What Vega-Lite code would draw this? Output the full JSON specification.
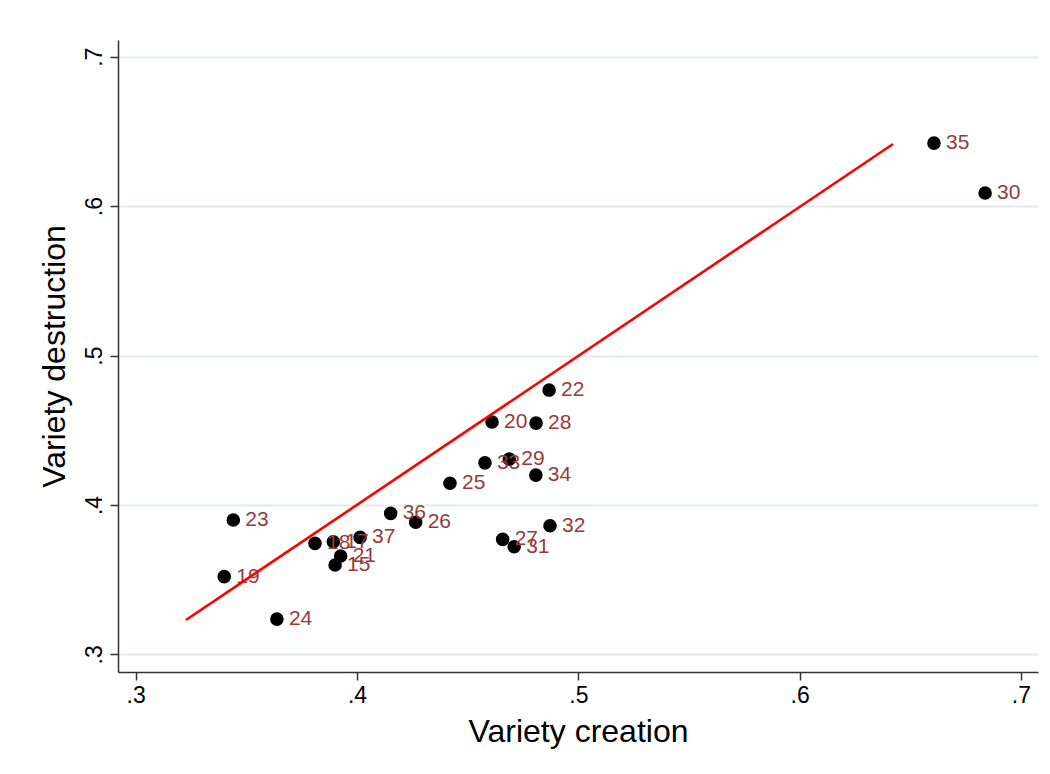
{
  "$schema": "https://vega.github.io/schema/vega-lite/v6.json",
  "autosize": {"type": "none"},
  "width": 920,
  "height": 632,
  "padding": {"left": 118, "top": 40, "right": 12, "bottom": 102},
  "background": "white",
  "config": {
    "view": {"stroke": null},
    "font": "Liberation Sans"
  },
  "datasets": {
    "pts": [
      {"id": "15", "x": 0.3901, "y": 0.3598},
      {"id": "17", "x": 0.3893, "y": 0.3754},
      {"id": "18", "x": 0.3810, "y": 0.3743},
      {"id": "19", "x": 0.3400, "y": 0.3520},
      {"id": "20", "x": 0.4610, "y": 0.4555},
      {"id": "21", "x": 0.3926, "y": 0.3658},
      {"id": "22", "x": 0.4868, "y": 0.4769},
      {"id": "23", "x": 0.3441, "y": 0.3899},
      {"id": "24", "x": 0.3638, "y": 0.3236},
      {"id": "25", "x": 0.4420, "y": 0.4145},
      {"id": "26", "x": 0.4265, "y": 0.3884},
      {"id": "27", "x": 0.4658, "y": 0.3770},
      {"id": "28", "x": 0.4809, "y": 0.4548},
      {"id": "29", "x": 0.4688, "y": 0.4307},
      {"id": "30", "x": 0.6838, "y": 0.6088},
      {"id": "31", "x": 0.4710, "y": 0.3720},
      {"id": "32", "x": 0.4872, "y": 0.3861},
      {"id": "33", "x": 0.4578, "y": 0.4282},
      {"id": "34", "x": 0.4808, "y": 0.4200},
      {"id": "35", "x": 0.6607, "y": 0.6422},
      {"id": "36", "x": 0.4152, "y": 0.3944},
      {"id": "37", "x": 0.4014, "y": 0.3783}
    ],
    "fit": [
      {"x": 0.3227, "y": 0.3230},
      {"x": 0.6422, "y": 0.6416}
    ]
  },
  "layer": [
    {
      "data": {"name": "pts"},
      "mark": {"type": "point", "filled": true, "shape": "circle", "size": 185, "color": "black", "opacity": 1},
      "encoding": {
        "x": {
          "field": "x", "type": "quantitative",
          "scale": {"domain": [0.292, 0.7077], "nice": false, "zero": false},
          "axis": {
            "title": "Variety creation",
            "values": [0.3, 0.4, 0.5, 0.6, 0.7],
            "labelExpr": "'.' + round(datum.value * 10)",
            "grid": false,
            "domainColor": "#333333",
            "domainWidth": 1.5,
            "tickColor": "#333333",
            "tickWidth": 1.5,
            "tickSize": 8,
            "labelFontSize": 23,
            "labelColor": "black",
            "labelPadding": 4,
            "labelFlush": false,
            "titleFontSize": 32,
            "titleFontWeight": "normal",
            "titleColor": "black",
            "titlePadding": 9
          }
        },
        "y": {
          "field": "y", "type": "quantitative",
          "scale": {"domain": [0.2882, 0.7112], "nice": false, "zero": false},
          "axis": {
            "title": "Variety destruction",
            "values": [0.3, 0.4, 0.5, 0.6, 0.7],
            "labelExpr": "'.' + round(datum.value * 10)",
            "grid": true,
            "gridColor": "#e3ecee",
            "gridWidth": 2,
            "domainColor": "#333333",
            "domainWidth": 1.5,
            "tickColor": "#333333",
            "tickWidth": 1.5,
            "tickSize": 8,
            "labelFontSize": 23,
            "labelColor": "black",
            "labelAngle": -90,
            "labelAlign": "center",
            "labelBaseline": "bottom",
            "labelPadding": 4,
            "labelFlush": false,
            "titleFontSize": 32,
            "titleFontWeight": "normal",
            "titleColor": "black",
            "titlePadding": 12
          }
        }
      }
    },
    {
      "data": {"name": "pts"},
      "mark": {"type": "text", "align": "left", "baseline": "middle", "dx": 12, "fontSize": 21, "color": "#953b3b"},
      "encoding": {
        "x": {"field": "x", "type": "quantitative"},
        "y": {"field": "y", "type": "quantitative"},
        "text": {"field": "id", "type": "nominal"}
      }
    },
    {
      "data": {"name": "fit"},
      "mark": {"type": "line", "color": "#ff0000", "strokeWidth": 2.6},
      "encoding": {
        "x": {"field": "x", "type": "quantitative"},
        "y": {"field": "y", "type": "quantitative"}
      }
    }
  ]
}
